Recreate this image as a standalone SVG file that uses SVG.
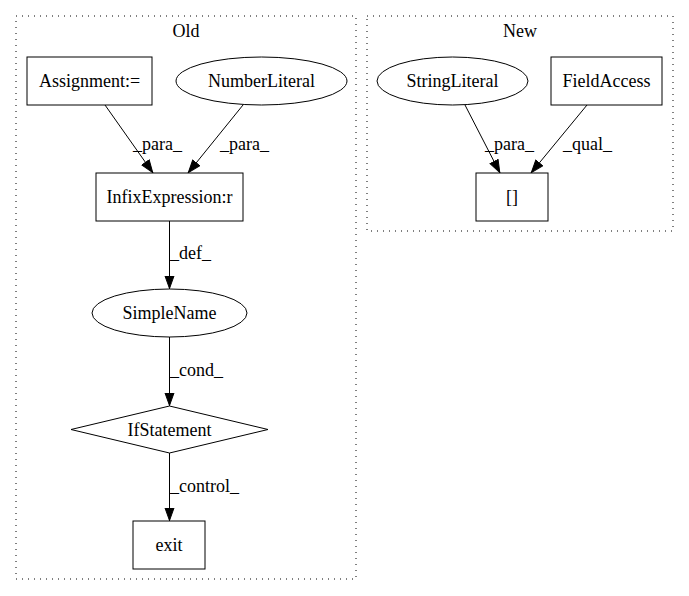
<svg xmlns="http://www.w3.org/2000/svg" width="689" height="596" viewBox="0 0 689 596">
<style>
text{font-family:"Liberation Serif","Times New Roman",serif;font-size:18px;fill:#000}
.c{fill:none;stroke:#000;stroke-width:1;stroke-dasharray:1,5}
.n{fill:#fff;stroke:#000;stroke-width:1}
.e{fill:none;stroke:#000;stroke-width:1;marker-end:url(#ah)}
.m{text-anchor:middle}
</style>
<defs>
<marker id="ah" markerUnits="userSpaceOnUse" markerWidth="14" markerHeight="11" refX="13.5" refY="5.5" orient="auto">
<path d="M0.5,1 L13,5.5 L0.5,10 z" fill="#000" stroke="#000" stroke-width="1"/>
</marker>
</defs>
<rect width="689" height="596" fill="#fff"/>
<g id="cluster_old">
<rect class="c" x="16" y="16" width="340" height="563"/>
<text class="m" x="186" y="37">Old</text>
</g>
<g id="cluster_new">
<rect class="c" x="367" y="16" width="306" height="215"/>
<text class="m" x="520" y="37">New</text>
</g>
<g id="connectors">
<line class="e" x1="105" y1="105" x2="153" y2="173"/>
<text x="133" y="150">_para_</text>
<line class="e" x1="243" y1="105" x2="188" y2="173"/>
<text x="220" y="150">_para_</text>
<line class="e" x1="169.5" y1="221" x2="169.5" y2="289"/>
<text x="170" y="259">_def_</text>
<line class="e" x1="169.5" y1="337" x2="169.5" y2="406"/>
<text x="170" y="376">_cond_</text>
<line class="e" x1="169.5" y1="453" x2="169.5" y2="521"/>
<text x="170" y="492">_control_</text>
<line class="e" x1="465" y1="105" x2="500" y2="173"/>
<text x="485" y="150">_para_</text>
<line class="e" x1="587" y1="105" x2="531" y2="173"/>
<text x="563" y="150">_qual_</text>
</g>
<g id="node_assignment">
<rect class="n" x="27" y="57" width="125" height="48"/>
<text class="m" x="89.5" y="87">Assignment:=</text>
</g>
<g id="node_numberliteral">
<ellipse class="n" cx="261.5" cy="81" rx="85.5" ry="24"/>
<text class="m" x="261.5" y="87">NumberLiteral</text>
</g>
<g id="node_infix">
<rect class="n" x="96" y="173" width="147" height="48"/>
<text class="m" x="169.5" y="203">InfixExpression:r</text>
</g>
<g id="node_simplename">
<ellipse class="n" cx="169.5" cy="313" rx="77.5" ry="24"/>
<text class="m" x="169.5" y="319">SimpleName</text>
</g>
<g id="node_ifstatement">
<polygon class="n" points="169.5,406 268,429.5 169.5,453 71,429.5"/>
<text class="m" x="169.5" y="435.5">IfStatement</text>
</g>
<g id="node_exit">
<rect class="n" x="133" y="521" width="72" height="48"/>
<text class="m" x="169" y="551">exit</text>
</g>
<g id="node_stringliteral">
<ellipse class="n" cx="452.5" cy="81" rx="75.5" ry="24"/>
<text class="m" x="452.5" y="87">StringLiteral</text>
</g>
<g id="node_fieldaccess">
<rect class="n" x="551" y="57" width="111" height="48"/>
<text class="m" x="606.5" y="87">FieldAccess</text>
</g>
<g id="node_index">
<rect class="n" x="476" y="173" width="72" height="48"/>
<text class="m" x="512" y="203">[]</text>
</g>
</svg>
